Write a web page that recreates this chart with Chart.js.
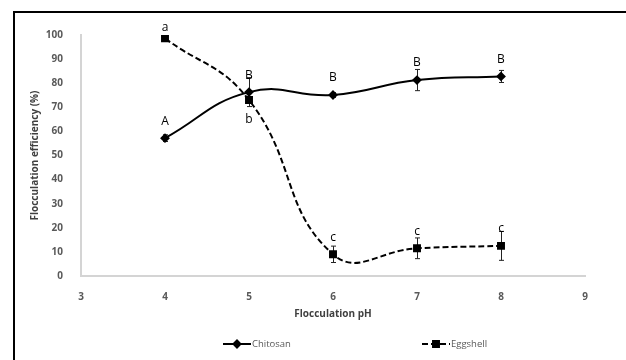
<!DOCTYPE html>
<html>
<head>
<meta charset="utf-8">
<script src="https://cdn.jsdelivr.net/npm/chart.js@4.4.1/dist/chart.umd.min.js"></script>
<style>
  html, body { margin: 0; padding: 0; background: #fff; }
  #wrap { position: relative; width: 626px; height: 360px; overflow: hidden; }
  #frame { position: absolute; left: 13px; top: 11px; width: 700px; height: 400px; border-top: 2px solid #000; border-left: 2px solid #000; }
  #c { position: absolute; left: 0; top: 0; }
</style>
</head>
<body>
<div id="wrap">
  <div id="frame"></div>
  <canvas id="c" width="626" height="360"></canvas>
</div>
<script>
const phValues = [4, 5, 6, 7, 8];
const chitosan = [57.2, 76.3, 75.1, 81.3, 82.8];
const chitosanErr = [1.4, 6, 1, 4.4, 2.5];
const chitosanLetters = ["A", "B", "B", "B", "B"];
const eggshell = [98.6, 73, 9, 11.5, 12.5];
const eggshellErr = [1, 1, 3.4, 4.3, 6];
const eggshellLetters = ["a", "b", "c", "c", "c"];
const eggshellLetterSide = ["above", "below", "above", "above", "above"];
const xTicks = [3, 4, 5, 6, 7, 8, 9];
const yTicks = [0, 10, 20, 30, 40, 50, 60, 70, 80, 90, 100];

const FONT = "'Open Sans', sans-serif";

const toPts = (vals) => vals.map((v, i) => ({ x: phValues[i], y: v }));

// error bars, drawn under the markers
const errorBars = {
  id: "errorBars",
  beforeDatasetsDraw(chart) {
    const { ctx, scales: { y } } = chart;
    ctx.save();
    ctx.strokeStyle = "#222";
    ctx.lineWidth = 1;
    chart.data.datasets.forEach((ds, di) => {
      const meta = chart.getDatasetMeta(di);
      meta.data.forEach((pt, i) => {
        const e = ds.errors[i];
        const y1 = y.getPixelForValue(ds.data[i].y + e);
        const y2 = y.getPixelForValue(ds.data[i].y - e);
        const x = Math.round(pt.x) + 0.5;
        ctx.beginPath();
        ctx.moveTo(x, y1); ctx.lineTo(x, y2);
        ctx.moveTo(x - 2.5, y1); ctx.lineTo(x + 2.5, y1);
        ctx.moveTo(x - 2.5, y2); ctx.lineTo(x + 2.5, y2);
        ctx.stroke();
      });
    });
    ctx.restore();
  },
};

// significance letters
const letters = {
  id: "letters",
  afterDatasetsDraw(chart) {
    const { ctx, chartArea } = chart;
    ctx.save();
    ctx.font = `12px ${FONT}`;
    ctx.fillStyle = "#000";
    ctx.textAlign = "center";
    ctx.textBaseline = "middle";
    chart.data.datasets.forEach((ds, di) => {
      const meta = chart.getDatasetMeta(di);
      meta.data.forEach((pt, i) => {
        const side = ds.letterSide ? ds.letterSide[i] : "above";
        let ly = side === "below" ? pt.y + 20 : pt.y - 17;
        ly = Math.max(ly, chartArea.top - 7);
        ctx.fillText(ds.letters[i], pt.x, ly);
      });
    });
    ctx.restore();
  },
};

// Excel-like legend below the axis title
const bottomLegend = {
  id: "bottomLegend",
  afterDraw(chart) {
    const { ctx } = chart;
    const starts = [223, 422];
    const ly = 344;
    ctx.save();
    chart.data.datasets.forEach((ds, di) => {
      const x0 = starts[di];
      ctx.strokeStyle = "#000";
      ctx.lineWidth = 2;
      ctx.setLineDash(ds.borderDash || []);
      ctx.beginPath();
      ctx.moveTo(x0, ly); ctx.lineTo(x0 + 28, ly);
      ctx.stroke();
      ctx.setLineDash([]);
      Chart.helpers.drawPoint(ctx, {
        pointStyle: ds.pointStyle, radius: ds.pointRadius, borderWidth: 1, rotation: 0,
      }, x0 + 14, ly);
      ctx.fillStyle = "#000";
      ctx.fill();
      ctx.font = `9.5px ${FONT}`;
      ctx.fillStyle = "#595959";
      ctx.textAlign = "left";
      ctx.textBaseline = "middle";
      ctx.fillText(ds.label, x0 + 29, ly);
    });
    ctx.restore();
  },
};

new Chart(document.getElementById("c"), {
  type: "scatter",
  data: {
    datasets: [
      {
        label: "Chitosan",
        data: toPts(chitosan),
        errors: chitosanErr,
        letters: chitosanLetters,
        showLine: true,
        borderColor: "#000",
        backgroundColor: "#000",
        borderWidth: 2,
        tension: 0.45,
        pointStyle: "rectRot",
        pointRadius: 3.5,
      },
      {
        label: "Eggshell",
        data: toPts(eggshell),
        errors: eggshellErr,
        letters: eggshellLetters,
        letterSide: eggshellLetterSide,
        showLine: true,
        borderColor: "#000",
        backgroundColor: "#000",
        borderWidth: 2,
        borderDash: [6, 3],
        tension: 0.45,
        pointStyle: "rect",
        pointRadius: 4.2,
      },
    ],
  },
  options: {
    responsive: false,
    animation: false,
    layout: { padding: { left: 25, top: 35, right: 41, bottom: 38 } },
    plugins: { legend: { display: false }, tooltip: { enabled: false } },
    scales: {
      x: {
        type: "linear",
        min: 3,
        max: 9,
        afterBuildTicks: (s) => { s.ticks = xTicks.map((v) => ({ value: v })); },
        afterFit: (s) => { s.height = 46; },
        grid: { display: false },
        border: { display: true, color: "#d4d4d4", width: 2 },
        ticks: { color: "#595959", padding: 7, font: { family: FONT, size: 10, weight: "bold" } },
        title: { display: true, text: "Flocculation pH", color: "#404040", padding: { top: 0, bottom: 2 }, font: { family: FONT, size: 10, weight: "bold" } },
      },
      y: {
        min: 0,
        max: 100,
        afterBuildTicks: (s) => { s.ticks = yTicks.map((v) => ({ value: v })); },
        afterFit: (s) => { s.width = 56; },
        grid: { display: false },
        border: { display: true, color: "#d4d4d4", width: 2 },
        ticks: { color: "#595959", padding: 10, font: { family: FONT, size: 10, weight: "bold" } },
        title: { display: true, text: "Flocculation efficiency (%)", color: "#404040", padding: { top: 4, bottom: 0 }, font: { family: FONT, size: 10, weight: "bold" } },
      },
    },
  },
  plugins: [errorBars, letters, bottomLegend],
});
</script>
</body>
</html>
